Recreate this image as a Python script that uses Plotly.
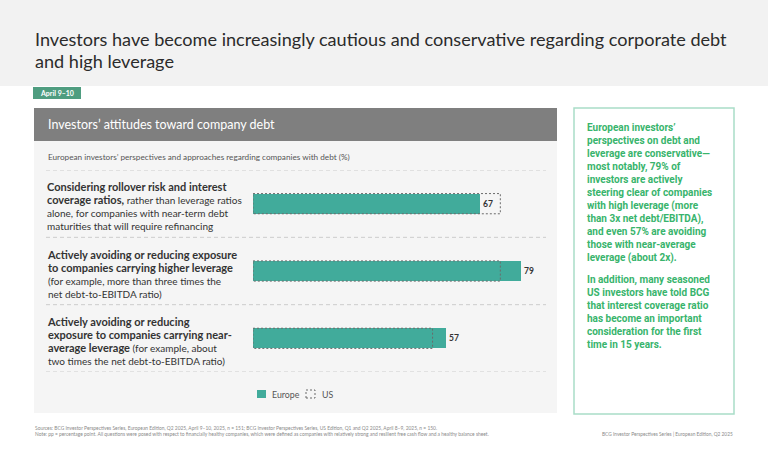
import plotly.graph_objects as go

# ---- data ----
row_label_lines = [
    [("Considering rollover risk and interest", ""),
     ("coverage ratios,", " rather than leverage ratios"),
     ("", "alone, for companies with near-term debt"),
     ("", "maturities that will require refinancing")],
    [("Actively avoiding or reducing exposure", ""),
     ("to companies carrying higher leverage", ""),
     ("", "(for example, more than three times the"),
     ("", "net debt-to-EBITDA ratio)")],
    [("Actively avoiding or reducing", ""),
     ("exposure to companies carrying near-", ""),
     ("average leverage", " (for example, about"),
     ("", "two times the net debt-to-EBITDA ratio)")],
]
europe = [67, 79, 57]
us = [73, 73, 53]
rows = [0, 1, 2]
callout_p1 = ["European investors’", "perspectives on debt and", "leverage are conservative—",
              "most notably, 79% of", "investors are actively", "steering clear of companies",
              "with high leverage (more", "than 3x net debt/EBITDA),", "and even 57% are avoiding",
              "those with near-average", "leverage (about 2x)."]
callout_p2 = ["In addition, many seasoned", "US investors have told BCG", "that interest coverage ratio",
              "has become an important", "consideration for the first", "time in 15 years."]

W, H = 768, 457
FONT = "Lato, sans-serif"
CFONT = "Roboto, Open Sans, sans-serif"
TEAL = "#41ab9b"
GREEN = "#38b46c"


def px(x):
    return x / W


def py(y):
    return 1 - y / H


fig = go.Figure()

fig.add_trace(go.Bar(
    y=rows, x=europe, orientation="h", width=0.3,
    marker=dict(color=TEAL, line=dict(width=0)),
    text=[str(v) for v in europe], textposition="outside",
    textfont=dict(family=FONT, size=8.5, color="#333333"),
    texttemplate="<b>%{text}</b>",
    cliponaxis=False, showlegend=False, hoverinfo="skip",
))

# US dashed outlines built from the data
hx, hy = [], []
h = 0.15
for r, v in zip(rows, us):
    hx += [0, v, v, 0, 0, None]
    hy += [r - h, r - h, r + h, r + h, r - h, None]
fig.add_trace(go.Scatter(
    x=hx, y=hy, mode="lines",
    line=dict(color="#6b6b6b", width=1, dash="2px,2px"),
    showlegend=False, hoverinfo="skip", cliponaxis=False,
))

shapes = []
shapes.append(dict(type="rect", xref="paper", yref="paper", x0=0, x1=1, y0=py(86), y1=1,
                   fillcolor="#f2f2f2", line=dict(width=0), layer="below"))
shapes.append(dict(type="rect", xref="paper", yref="paper", x0=px(33), x1=px(81), y0=py(99), y1=py(87),
                   fillcolor="#4f9d80", line=dict(width=0), layer="below"))
shapes.append(dict(type="rect", xref="paper", yref="paper", x0=px(34), x1=px(557), y0=py(141), y1=py(108),
                   fillcolor="#7f7f7f", line=dict(width=0), layer="below"))
shapes.append(dict(type="rect", xref="paper", yref="paper", x0=px(34), x1=px(557), y0=py(413), y1=py(141),
                   fillcolor="#f5f5f5", line=dict(width=0), layer="below"))
for yv in [-0.5, 0.5, 1.5, 2.5]:
    shapes.append(dict(type="line", xref="paper", yref="y", x0=px(46), x1=px(546), y0=yv, y1=yv,
                       line=dict(color="#cccccc", width=1, dash="4px,3px"), layer="below"))
shapes.append(dict(type="rect", xref="paper", yref="paper", x0=px(574), x1=px(734), y0=py(414), y1=py(108),
                   fillcolor="rgba(0,0,0,0)", line=dict(color="#a9ddc8", width=1.5)))
shapes.append(dict(type="rect", xref="paper", yref="paper", x0=px(257), x1=px(266), y0=py(398), y1=py(390),
                   fillcolor=TEAL, line=dict(width=0)))
shapes.append(dict(type="rect", xref="paper", yref="paper", x0=px(306), x1=px(315), y0=py(398), y1=py(390),
                   fillcolor="rgba(0,0,0,0)", line=dict(color="#6b6b6b", width=1, dash="2px,2px")))

ann = []


def text(x, y, s, size, color, xanchor="left", yanchor="middle", family=FONT):
    ann.append(dict(x=px(x), y=py(y), xref="paper", yref="paper", text=s, showarrow=False,
                    xanchor=xanchor, yanchor=yanchor, align="left",
                    font=dict(family=family, size=size, color=color)))


text(33, 39, "Investors have become increasingly cautious and conservative regarding corporate debt", 18.1, "#2b2b2b")
text(33, 61.5, "and high leverage", 18.1, "#2b2b2b")
text(57, 93, "<b>April 9–10</b>", 7, "#ffffff", xanchor="center")
text(46, 125, "Investors’ attitudes toward company debt", 12.5, "#ffffff")
text(46, 157, "European investors’ perspectives and approaches regarding companies with debt (%)", 8.2, "#555555")

for r, lines in zip(rows, row_label_lines):
    parts = []
    for bold, reg in lines:
        s = ""
        if bold:
            s += '<b><span style="font-size:11px">' + bold + "</span></b>"
        if reg:
            s += reg
        parts.append(s)
    ann.append(dict(x=px(45), y=r, xref="paper", yref="y", text="<br>".join(parts), showarrow=False,
                    xanchor="left", yanchor="middle", align="left", yshift=-2.5,
                    font=dict(family=FONT, size=10, color="#333333")))

text(270, 394, "Europe", 8.8, "#555555")
text(320, 394, "US", 8.8, "#555555")

CLH = 13.0
text(585, 128.3 + (len(callout_p1) - 1) * CLH / 2, "<b>" + "<br>".join(callout_p1) + "</b>", 10, GREEN, family=CFONT)
text(585, 279 + (len(callout_p2) - 1) * CLH / 2, "<b>" + "<br>".join(callout_p2) + "</b>", 10, GREEN, family=CFONT)

text(33, 428, "Sources: BCG Investor Perspectives Series, European Edition, Q2 2025, April 9–10, 2025, n = 151; BCG Investor Perspectives Series, US Edition, Q1 and Q2 2025, April 8–9, 2025, n = 150.", 4.9, "#8a8a8a")
text(33, 433.5, "Note: pp = percentage point. All questions were posed with respect to financially healthy companies, which were defined as companies with relatively strong and resilient free cash flow and a healthy balance sheet.", 4.9, "#8a8a8a")
text(735, 433.5, "BCG Investor Perspectives Series | European Edition, Q2 2025", 4.8, "#8a8a8a", xanchor="right")

fig.update_layout(
    width=W, height=H, margin=dict(l=0, r=0, t=0, b=0),
    paper_bgcolor="#ffffff", plot_bgcolor="rgba(0,0,0,0)",
    shapes=shapes, annotations=ann, showlegend=False,
    xaxis=dict(range=[0, 100], domain=[px(253), px(253 + 338.8)], visible=False, fixedrange=True),
    yaxis=dict(range=[2.5, -0.5], domain=[py(372), py(170)], visible=False, fixedrange=True),
    bargap=0,
)

fig.write_html("out.html", config={"displayModeBar": False},
               post_script="document.body.style.margin='0';document.body.style.padding='0';")
